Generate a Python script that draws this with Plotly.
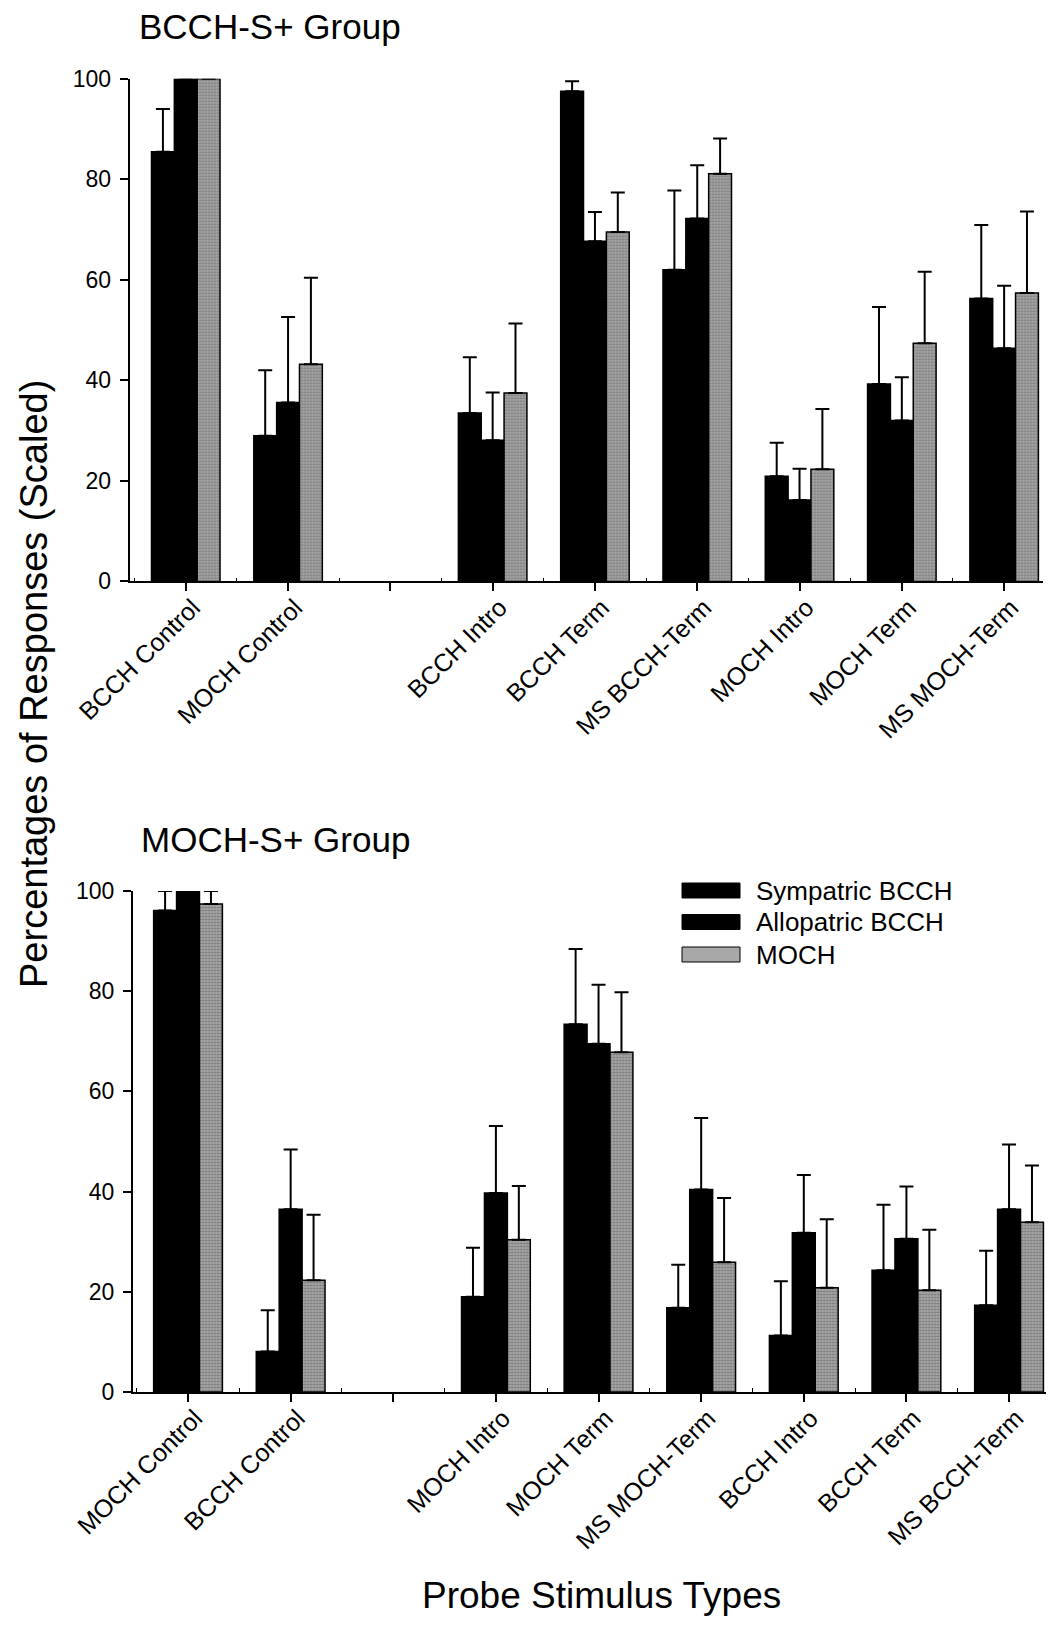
import plotly.graph_objects as go

# ---------------- data ----------------
series_names = ["Sympatric BCCH", "Allopatric BCCH", "MOCH"]

top_title = "BCCH-S+ Group"
top_categories = ["BCCH Control", "MOCH Control", "", "BCCH Intro", "BCCH Term",
                  "MS BCCH-Term", "MOCH Intro", "MOCH Term", "MS MOCH-Term"]
top_sym = [85.5, 29.0, None, 33.5, 97.5, 62.0, 20.9, 39.3, 56.3]
top_sym_err = [8.5, 13.0, None, 11.1, 2.0, 15.8, 6.7, 15.3, 14.6]
top_allo = [100.0, 35.6, None, 28.1, 67.7, 72.2, 16.2, 32.0, 46.4]
top_allo_err = [0.0, 17.0, None, 9.5, 5.8, 10.6, 6.2, 8.6, 12.4]
top_moch = [100.0, 43.2, None, 37.5, 69.5, 81.1, 22.3, 47.4, 57.4]
top_moch_err = [0.0, 17.2, None, 13.8, 7.9, 7.0, 12.0, 14.2, 16.2]

bot_title = "MOCH-S+ Group"
bot_categories = ["MOCH Control", "BCCH Control", "", "MOCH Intro", "MOCH Term",
                  "MS MOCH-Term", "BCCH Intro", "BCCH Term", "MS BCCH-Term"]
bot_sym = [96.1, 8.1, None, 19.0, 73.4, 16.8, 11.3, 24.3, 17.3]
bot_sym_err = [3.9, 8.2, None, 9.8, 15.0, 8.6, 10.8, 13.1, 10.9]
bot_allo = [100.0, 36.5, None, 39.7, 69.5, 40.4, 31.8, 30.6, 36.5]
bot_allo_err = [0.0, 11.9, None, 13.4, 11.8, 14.3, 11.5, 10.4, 12.9]
bot_moch = [97.4, 22.3, None, 30.4, 67.8, 25.9, 20.8, 20.3, 33.9]
bot_moch_err = [2.6, 13.1, None, 10.7, 12.0, 12.8, 13.7, 12.1, 11.3]

y_ticks = [0, 20, 40, 60, 80, 100]
y_title = "Percentages of Responses (Scaled)"
x_title = "Probe Stimulus Types"

# ---------------- figure ----------------
# the page body has an 8px margin, so the figure is placed at (8, 8)
OFF = 8
W, H = 1055 - 2 * OFF, 1625 - 2 * OFF
FONT = "Liberation Sans, Arial, sans-serif"

def px_x(p):
    return (p - OFF) / W

def px_y(p):
    return 1 - (p - OFF) / H

black_marker = dict(color="black", line=dict(color="black", width=1.5))
moch_marker = dict(color="#a0a0a0", line=dict(color="black", width=1.5),
                   pattern=dict(shape=".", fgcolor="#404040", bgcolor="#a8a8a8",
                                size=3, solidity=0.4))

fig = go.Figure()

def add_panel(xaxis, yaxis, cats, vals_list, errs_list):
    xs = list(range(len(cats)))
    markers = [black_marker, black_marker, moch_marker]
    for name, vals, errs, mk in zip(series_names, vals_list, errs_list, markers):
        fig.add_trace(go.Bar(
            x=xs, y=vals, name=name, marker=mk, xaxis=xaxis, yaxis=yaxis,
            showlegend=False, cliponaxis=False,
            error_y=dict(type="data", symmetric=False, array=errs,
                         arrayminus=[0 if e is not None else None for e in errs],
                         color="black", thickness=2, width=7),
        ))

add_panel("x", "y", top_categories, [top_sym, top_allo, top_moch],
          [top_sym_err, top_allo_err, top_moch_err])
add_panel("x2", "y2", bot_categories, [bot_sym, bot_allo, bot_moch],
          [bot_sym_err, bot_allo_err, bot_moch_err])

tick_font = dict(family=FONT, size=23, color="black")
xtick_font = dict(family=FONT, size=25, color="black")

def xaxis_cfg(cats, rng, dom, anchor):
    return dict(
        domain=dom, range=rng, anchor=anchor, automargin=False,
        tickmode="array", tickvals=list(range(len(cats))), ticktext=cats,
        tickangle=-45, tickfont=xtick_font, ticklabelshift=7, ticklabelstandoff=-8,
        showline=True, linecolor="black", linewidth=1.5,
        ticks="outside", ticklen=8, tickwidth=1.5, tickcolor="black",
        showgrid=False, zeroline=False,
        minor=dict(ticks="inside", ticklen=4, tickwidth=1, tickcolor="black",
                   tickmode="array",
                   tickvals=[i + 0.5 for i in range(-1, len(cats))]),
    )

def yaxis_cfg(dom, anchor):
    return dict(
        domain=dom, range=[0, 100], anchor=anchor, automargin=False,
        tickmode="array", tickvals=y_ticks, tickfont=tick_font,
        ticklabelstandoff=4,
        showline=True, linecolor="black", linewidth=1.5,
        ticks="outside", ticklen=8, tickwidth=1.5, tickcolor="black",
        showgrid=False, zeroline=False,
    )

fig.update_layout(
    width=W, height=H,
    margin=dict(l=0, r=0, t=0, b=0, autoexpand=False),
    paper_bgcolor="white", plot_bgcolor="white",
    barmode="group", bargap=0.33, bargroupgap=0.0,
    font=dict(family=FONT, color="black"),
    xaxis=xaxis_cfg(top_categories, [-0.55, 8.38], [px_x(129.5), px_x(1043)], "y"),
    yaxis=yaxis_cfg([px_y(581.4), px_y(78.8)], "x"),
    xaxis2=xaxis_cfg(bot_categories, [-0.54, 8.36], [px_x(132.6), px_x(1046)], "y2"),
    yaxis2=yaxis_cfg([px_y(1392), px_y(891)], "x2"),
    showlegend=False,
)

annotations = [
    dict(text=top_title, x=px_x(137), y=px_y(27), xanchor="left", yanchor="middle",
         font=dict(size=35)),
    dict(text=bot_title, x=px_x(139), y=px_y(839), xanchor="left", yanchor="middle",
         font=dict(size=35)),
    dict(text=y_title, x=px_x(34), y=px_y(684), xanchor="center", yanchor="middle",
         textangle=-90, font=dict(size=38)),
    dict(text=x_title, x=px_x(601), y=px_y(1595), xanchor="center", yanchor="middle",
         font=dict(size=37)),
]

# legend (drawn manually to get large swatches)
legend_rows = [890.5, 922, 954.5]
legend_fill = ["black", "black", "#a8a8a8"]
shapes = []
for name, yc, fc in zip(series_names, legend_rows, legend_fill):
    shapes.append(dict(type="rect", xref="paper", yref="paper",
                       x0=px_x(682), x1=px_x(740), y0=px_y(yc + 7.5), y1=px_y(yc - 7.5),
                       fillcolor=fc, line=dict(color="black", width=1)))
    annotations.append(dict(text=name, x=px_x(754), y=px_y(yc), xanchor="left",
                            yanchor="middle", font=dict(size=26)))

for a in annotations:
    a.update(xref="paper", yref="paper", showarrow=False)
    a["font"] = dict(family=FONT, color="black", size=a["font"]["size"])

fig.update_layout(annotations=annotations, shapes=shapes)

fig.write_html("out.html")
